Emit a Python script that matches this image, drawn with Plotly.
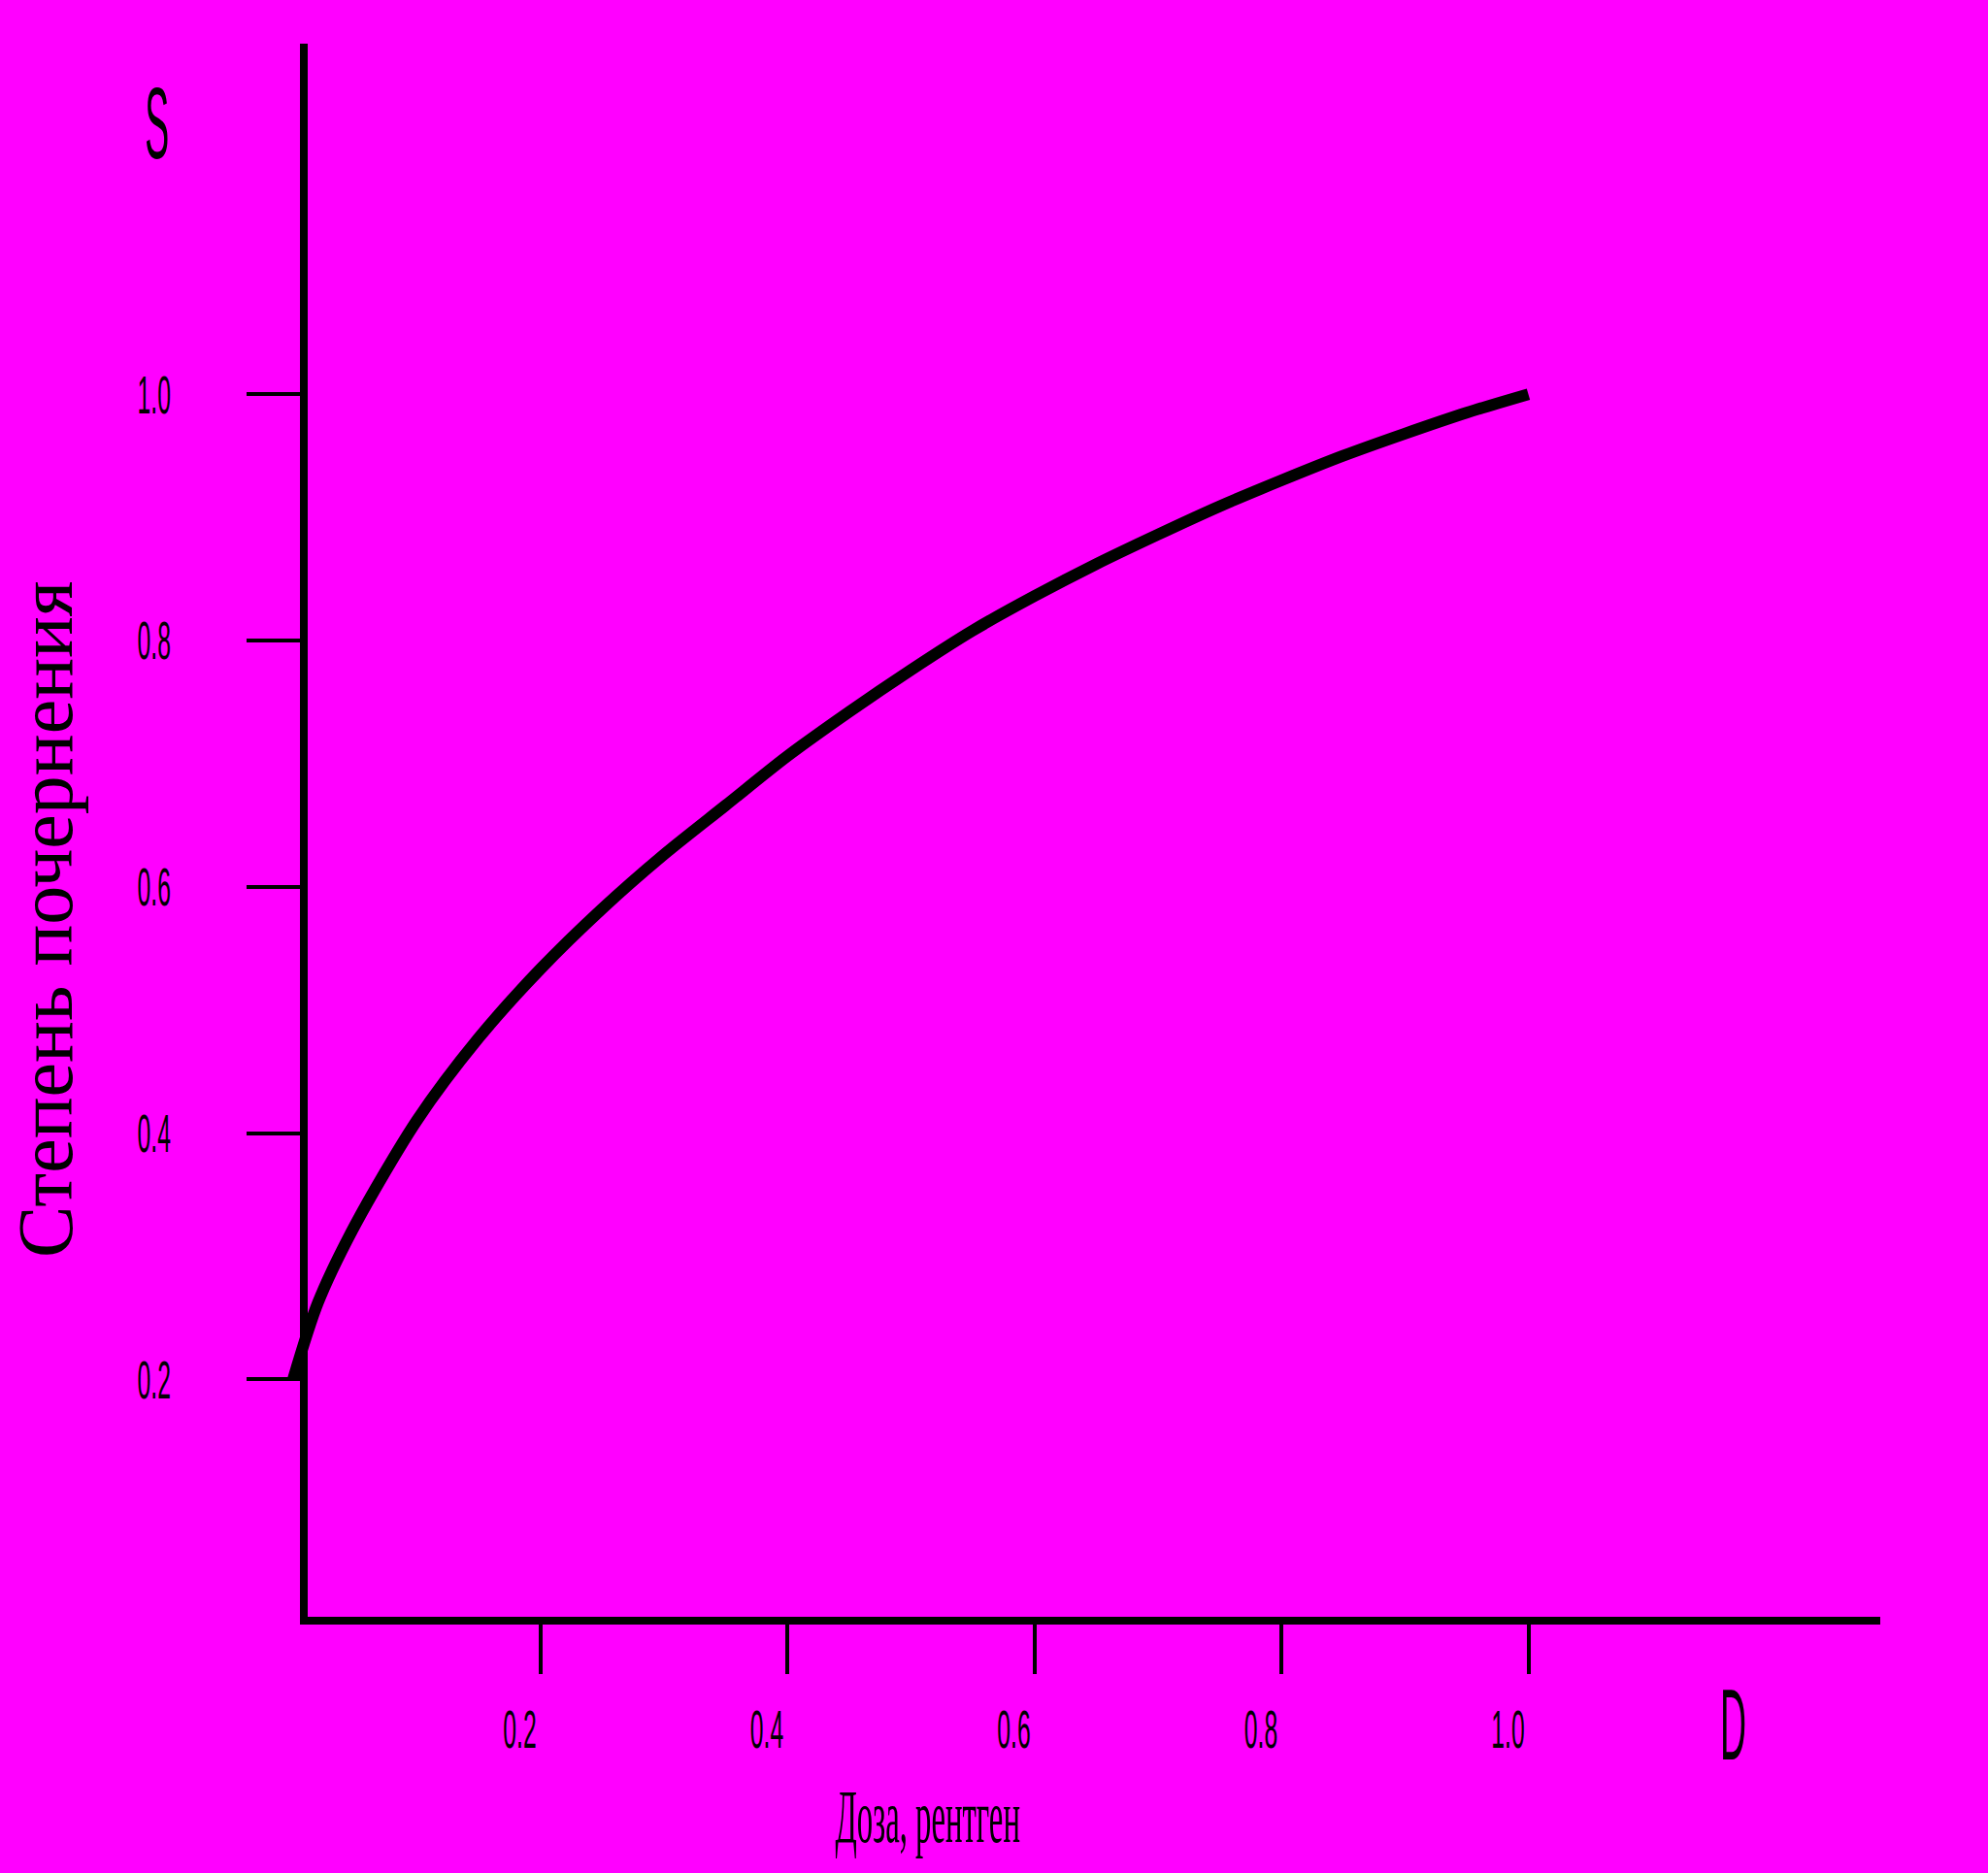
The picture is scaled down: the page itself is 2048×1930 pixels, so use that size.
import plotly.graph_objects as go

# ---- data ----
dose = [0.0, 0.02, 0.05, 0.10, 0.15, 0.20, 0.25, 0.30, 0.35, 0.40, 0.45,
        0.50, 0.55, 0.60, 0.65, 0.70, 0.75, 0.80, 0.85, 0.90, 0.95, 1.00]
density = [0.200, 0.262, 0.325, 0.410, 0.477, 0.533, 0.582, 0.626, 0.666, 0.706, 0.742,
           0.776, 0.808, 0.836, 0.862, 0.886, 0.909, 0.930, 0.950, 0.968, 0.985, 1.000]
x_tick_vals = [0.2, 0.4, 0.6, 0.8, 1.0]
x_tick_text = ["0.2", "0.4", "0.6", "0.8", "1.0"]
y_tick_vals = [0.2, 0.4, 0.6, 0.8, 1.0]
y_tick_text = ["0.2", "0.4", "0.6", "0.8", "1.0"]
x_title = "Доза, рентген"
y_title = "Степень почернения"
x_symbol = "D"
y_symbol = "S"

W, H = 2048, 1930
BG = "#FF00FF"


def px(x):
    return x / W


def py(y):
    return 1 - y / H


fig = go.Figure()
# invisible trace so that the decorated x/y subplot exists
fig.add_trace(go.Scatter(x=dose, y=density, mode="lines", xaxis="x", yaxis="y",
                         line=dict(color="rgba(0,0,0,0)", width=1),
                         hoverinfo="skip", showlegend=False))
# the curve itself (on an overlapping axis so its start is not clipped by the y-axis edge)
fig.add_trace(go.Scatter(x=dose, y=density, mode="lines", xaxis="x2", yaxis="y",
                         line=dict(color="black", width=12, shape="spline", smoothing=0.8),
                         hoverinfo="skip", showlegend=False))

tickfont = dict(family="Liberation Sans, Arial, sans-serif", size=55, color="black")

fig.update_layout(
    width=W, height=H, autosize=False,
    margin=dict(l=0, r=0, t=0, b=0),
    paper_bgcolor=BG, plot_bgcolor="rgba(0,0,0,0)",
    showlegend=False,
    xaxis=dict(domain=[px(317), px(1937)], range=[15 / 1272.5, 1635 / 1272.5],
               anchor="y", showgrid=False, zeroline=False,
               showline=True, linewidth=8, linecolor="black",
               ticks="outside", ticklen=51, tickwidth=4, tickcolor="black",
               tickvals=x_tick_vals, ticktext=x_tick_text, tickfont=tickfont,
               ticklabelstandoff=10, ticklabelshift=-21, fixedrange=True),
    xaxis2=dict(domain=[px(280), px(1937)], range=[-22 / 1272.5, 1635 / 1272.5],
                anchor="y", visible=False, fixedrange=True),
    yaxis=dict(domain=[py(1666), py(45)], range=[9 / 1268.75, 1630 / 1268.75],
               anchor="x", showgrid=False, zeroline=False,
               showline=True, linewidth=8, linecolor="black",
               ticks="outside", ticklen=55, tickwidth=4, tickcolor="black",
               tickvals=y_tick_vals, ticktext=y_tick_text, tickfont=tickfont,
               ticklabelstandoff=46, fixedrange=True),
    annotations=[
        dict(text=y_symbol, x=px(161), y=py(127), xref="paper", yref="paper",
             xanchor="center", yanchor="middle", showarrow=False,
             font=dict(family="Liberation Sans, Arial, sans-serif", size=104, color="black")),
        dict(text=x_symbol, x=px(1785), y=py(1777), xref="paper", yref="paper",
             xanchor="center", yanchor="middle", showarrow=False,
             font=dict(family="Liberation Sans, Arial, sans-serif", size=104, color="black")),
        dict(text=x_title, x=px(955), y=py(1871), xref="paper", yref="paper",
             xanchor="center", yanchor="middle", showarrow=False,
             font=dict(family="Liberation Serif, Times New Roman, serif", size=78, color="black")),
        dict(text=y_title, x=px(47), y=py(947), xref="paper", yref="paper",
             xanchor="center", yanchor="middle", showarrow=False, textangle=-90,
             font=dict(family="Liberation Serif, Times New Roman, serif", size=80, color="black")),
    ],
)

# Remove the page margin and condense the narrow, tall lettering of the original
post = r"""
document.body.style.margin = '0';
document.body.style.background = '#FF00FF';
var gd = document.getElementById('{plot_id}');
function squeeze(el, s){
  var b = el.getBBox(); var cx = b.x + b.width/2;
  var tr = el.getAttribute('transform') || '';
  el.setAttribute('transform', tr + ' translate(' + cx + ',0) scale(' + s + ',1) translate(' + (-cx) + ',0)');
}
gd.querySelectorAll('.xtick text, .ytick text').forEach(function(t){ squeeze(t, 0.45); });
gd.querySelectorAll('text.annotation-text').forEach(function(t){
  var s = t.textContent;
  if (s === 'S' || s === 'D') squeeze(t, 0.36);
  else if (s.indexOf('Доза') === 0) squeeze(t, 0.42);
});
"""

fig.write_html("out.html", post_script=post, config={"responsive": False, "displayModeBar": False})
